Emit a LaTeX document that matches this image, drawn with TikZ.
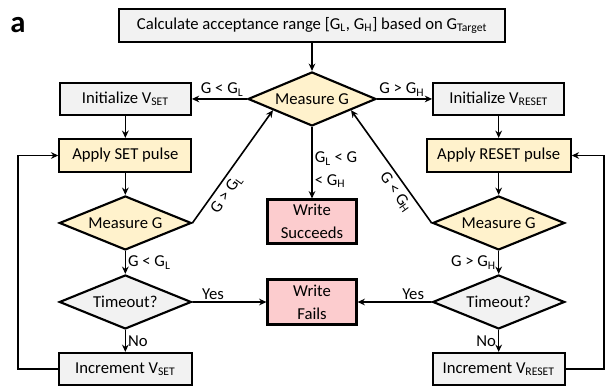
\documentclass[tikz,border=0pt]{standalone}
\usepackage{fontspec}
\setmainfont{Carlito}
\usetikzlibrary{shapes.geometric, positioning, calc, arrows.meta}

\definecolor{boxgrey}{RGB}{242,242,242}
\definecolor{pulseyellow}{RGB}{255,242,204}
\definecolor{resultpink}{RGB}{252,204,206}

\begin{document}
\begin{tikzpicture}[x=0.75pt, y=-0.75pt, >={Stealth[length=5.5pt, width=5pt]}, font=\fontsize{12.5}{17}\selectfont]
    \tikzstyle{rect} = [draw, line width=1.6pt, rectangle, inner sep=2pt, minimum height=24pt]
    \tikzstyle{greybox} = [rect, fill=boxgrey]
    \tikzstyle{pulsebox} = [rect, fill=pulseyellow, minimum height=24.75pt]
    \tikzstyle{resultbox} = [rect, fill=resultpink, align=center, minimum width=66.75pt, minimum height=33pt, inner sep=1pt]
    \tikzstyle{decision} = [draw, line width=1.6pt, diamond, aspect=2.4, inner sep=0pt, minimum width=99pt, minimum height=40.5pt]
    \tikzstyle{flow} = [->, line width=1.2pt]
    \tikzstyle{cond} = [inner sep=1.5pt]

    \useasboundingbox (0,0) rectangle (605,389);
    \node[font=\bfseries\fontsize{23}{23}\selectfont] (panel) at (18,25) {a};

    % boxes and decisions
    \path
        node[greybox, minimum width=289.5pt, minimum height=24.75pt] (calc) at (312,25.5) {Calculate acceptance range [G\textsubscript{L}, G\textsubscript{H}] based on G\textsubscript{Target}}
        node[decision, fill=pulseyellow, minimum width=96pt, below of=calc, node distance=55.1pt] (mc) {Measure G}

        node[greybox, minimum width=98.25pt, left of=mc, node distance=140pt] (is) {Initialize V\textsubscript{SET}}
        node[greybox, minimum width=98.25pt, right of=mc, node distance=140pt] (ir) {Initialize V\textsubscript{RESET}}
        node[pulsebox, minimum width=99pt, below of=is, node distance=42.4pt] (aps) {Apply SET pulse}
        node[pulsebox, minimum width=108pt, below of=ir, node distance=42.4pt] (apr) {Apply RESET pulse}
        node[decision, fill=pulseyellow, below of=aps, node distance=50.6pt] (ms) {Measure G}
        node[decision, fill=pulseyellow, below of=apr, node distance=50.6pt] (mr) {Measure G}
        node[decision, fill=boxgrey, below of=ms, node distance=59.25pt] (ts) {Timeout?}
        node[decision, fill=boxgrey, below of=mr, node distance=59.25pt] (tr) {Timeout?}
        node[greybox, minimum width=99.75pt, below of=ts, node distance=50.25pt] (incs) {Increment V\textsubscript{SET}}
        node[greybox, minimum width=99pt, below of=tr, node distance=50.25pt] (incr) {Increment V\textsubscript{RESET}}

        node[resultbox, below of=mc, node distance=91.9pt] (ws) {Write\\Succeeds}
        node[resultbox, minimum height=33.75pt, below of=ws, node distance=60.4pt] (wf) {Write\\Fails}
    ;

    \coordinate (mcl) at ($(mc.west)!0.4!(mc.south)$);
    \coordinate (mcr) at ($(mc.east)!0.4!(mc.south)$);

    % connectors
    \path[flow]
        (calc) edge (mc)
        (mc) edge node[cond, above, pos=0.45] {G < G\textsubscript{L}} (is)
        (mc) edge node[cond, above, pos=0.45] {G > G\textsubscript{H}} (ir)
        (mc) edge node[cond, right, pos=0.6, align=left] {G\textsubscript{L} < G\\< G\textsubscript{H}} (ws)

        (is) edge (aps)
        (ir) edge (apr)
        (aps) edge (ms)
        (apr) edge (mr)

        (ms.east) edge node[cond, inner sep=3pt, sloped, below, pos=0.31] {G > G\textsubscript{L}} (mcl)
        (mcr) edge[<-] node[cond, inner sep=3pt, sloped, below, pos=0.67] {G < G\textsubscript{H}} (mr.west)

        (ms) edge node[cond, right] {G < G\textsubscript{L}} (ts)
        (mr) edge node[cond, left] {G > G\textsubscript{H}} (tr)
        (ts) edge node[cond, above, pos=0.28] {Yes} (wf)
        (tr) edge node[cond, above, pos=0.25] {Yes} (wf)
        (ts) edge node[cond, right] {No} (incs)
        (tr) edge node[cond, left] {No} (incr)
    ;

    % retry loops
    \draw[flow] (incs.west) -- ++(-40,0) |- (aps.west);
    \draw[flow] (incr.east) -- ++(38.5,0) |- (apr.east);
\end{tikzpicture}
\end{document}
